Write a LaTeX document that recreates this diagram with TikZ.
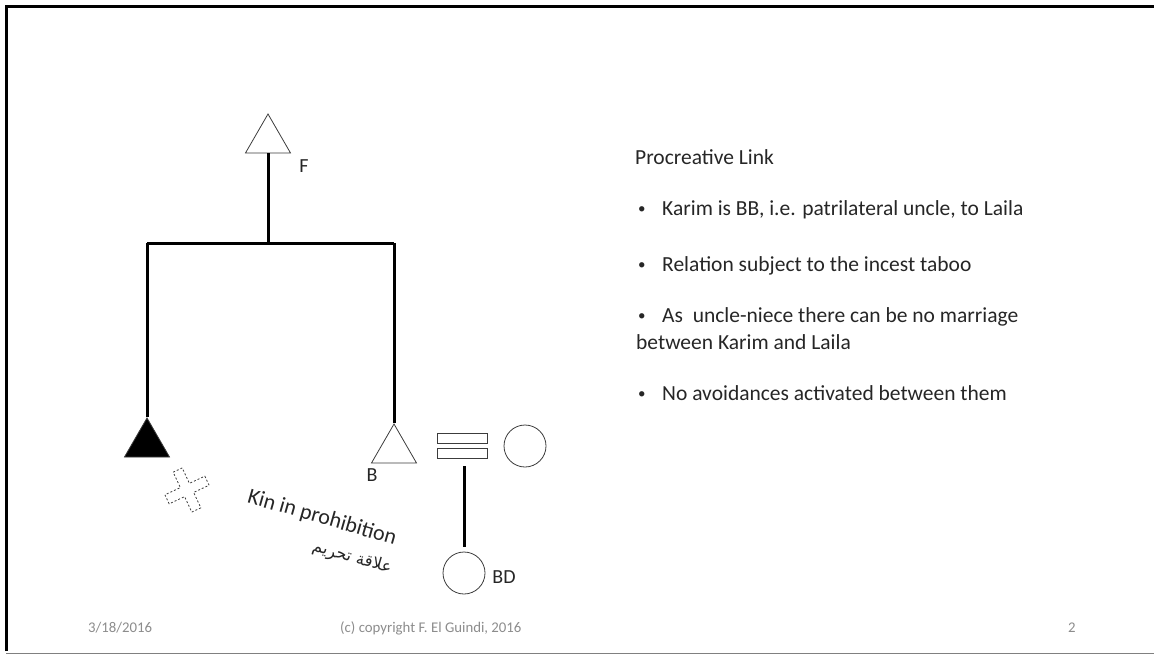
\documentclass[tikz,border=0pt]{standalone}
\usepackage{fontspec}
\setmainfont{Carlito}
\newfontfamily\arabicfont[Script=Arabic]{DejaVu Sans}
\TeXXeTstate=1
\usetikzlibrary{shapes.geometric}
\definecolor{txtgray}{HTML}{262626}
\definecolor{footgray}{HTML}{8C8C8C}
\definecolor{shapegray}{HTML}{3C3C3C}
\tikzset{
  male/.style={draw=shapegray, line width=0.8pt, regular polygon, regular polygon sides=3, minimum size=52pt, inner sep=0pt},
  female/.style={draw=shapegray, line width=0.8pt, circle, minimum size=42pt, inner sep=0pt},
  bar/.style={draw=shapegray, line width=0.8pt, rectangle, minimum width=50pt, minimum height=10pt, inner sep=0pt},
  tie/.style={line width=3pt, black},
  lbl/.style={font=\fontsize{20}{24}\selectfont, text=txtgray, inner sep=0pt},
  body/.style={font=\fontsize{21.5}{25}\selectfont, text=txtgray, anchor=base west, inner sep=0pt},
  dot/.style={font=\fontsize{15}{18}\selectfont, text=txtgray, anchor=base west, inner sep=0pt},
  foot/.style={font=\fontsize{14.8}{17}\selectfont, text=footgray, anchor=base west, inner sep=0pt}
}
\begin{document}
\begin{tikzpicture}[x=1pt,y=-1pt]
        \useasboundingbox (0,0) rectangle (1154,656);
        \draw[line width=3pt] (6.5,651) -- (6.5,6.5) -- (1154,6.5);
        \draw[gray, line width=1pt] (6,653.5) -- (1154,653.5);
        % kin diagram
        \node[male] (F) at (268,140) {};
        \node[male, fill=black] (ego) at (147,444) {};
        \node[male] (B) at (394,450) {};
        \node[bar] (eqtop) at (462,438) {};
        \node[bar] (eqlow) at (462,453) {};
        \node[female] (W) at (525,446) {};
        \node[female] (BD) at (464,573) {};
        \coordinate (sibL) at (147,243);
        \coordinate (sibM) at (268,243);
        \coordinate (sibR) at (394,243);
        \coordinate (desc) at (464,453);
        \draw[tie] (F.south) -- (sibM);
        \draw[tie] (sibL) -- (sibR);
        \draw[tie] (sibL) -- (ego.corner 1);
        \draw[tie] (sibR) -- (B.corner 1);
        \draw[tie, shorten <=13pt, shorten >=5pt] (desc) -- (BD.north);
        \node[lbl] (Flbl) at (304,166) {F};
        \node[lbl] (Blbl) at (372,475) {B};
        \node[lbl] (BDlbl) at (504,577) {BD};
        \begin{scope}[shift={(187,490)}, rotate=25]
        \draw[shapegray, line width=0.8pt, dash pattern=on 2pt off 2pt]
          (-5,-22) -- (5,-22) -- (5,-5) -- (22,-5) -- (22,5) -- (5,5) -- (5,22)
          -- (-5,22) -- (-5,5) -- (-22,5) -- (-22,-5) -- (-5,-5) -- cycle;
        \end{scope}
        \node[rotate=-16, inner sep=0pt, font=\fontsize{22}{26}\selectfont, text=txtgray] (kin) at (322,518) {Kin in prohibition};
        \node[rotate=-16, inner sep=0pt, font=\arabicfont\fontsize{16.5}{19}\selectfont, text=txtgray] (kinar) at (352,558) {\beginR علاقة تحريم\endR};
        % text
        \node[body] (head) at (635,164) {Procreative Link};
        \node[dot] (b1) at (638,213) {•};
        \node[body] (t1) at (662,215) {Karim is BB, i.e. patrilateral uncle, to Laila};
        \node[dot] (b2) at (638,269) {•};
        \node[body] (t2) at (662,271) {Relation subject to the incest taboo};
        \node[dot] (b3) at (638,320) {•};
        \node[body] (t3) at (662,322) {As\ \ uncle-niece there can be no marriage};
        \node[body] (t3b) at (636,349) {between Karim and Laila};
        \node[dot] (b4) at (638,398) {•};
        \node[body] (t4) at (662,400) {No avoidances activated between them};
        % footer
        \node[foot] (date) at (88,632) {3/18/2016};
        \node[foot] (copy) at (340,632) {(c) copyright F. El Guindi, 2016};
        \node[foot] (page) at (1068,632) {2};
\end{tikzpicture}
\end{document}
